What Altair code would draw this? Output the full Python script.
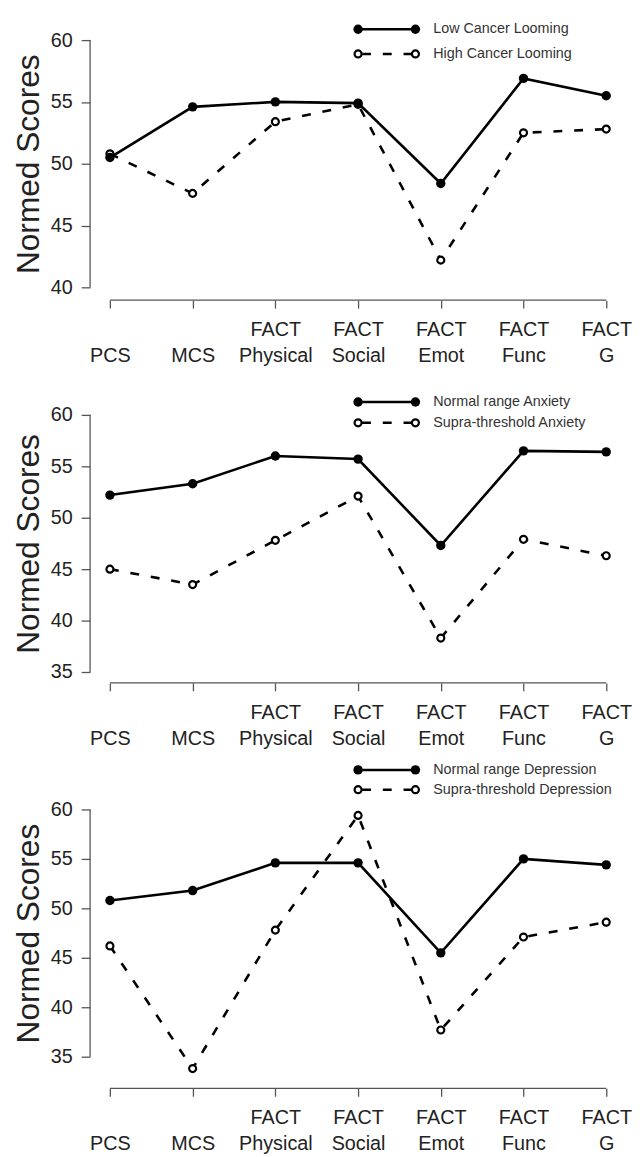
import json
import altair as alt
import pandas as pd

# ---- data ----
categories = ["PCS", "MCS", "FACT Physical", "FACT Social", "FACT Emot", "FACT Func", "FACT G"]
label_lines = [["", "PCS"], ["", "MCS"], ["FACT", "Physical"], ["FACT", "Social"],
               ["FACT", "Emot"], ["FACT", "Func"], ["FACT", "G"]]
positions = [1, 2, 3, 4, 5, 6, 7]

p1_names = ["Low Cancer Looming", "High Cancer Looming"]
p1_low = [50.5, 54.6, 55.0, 54.9, 48.4, 56.9, 55.5]
p1_high = [50.8, 47.6, 53.4, 54.8, 42.2, 52.5, 52.8]
p1_ticks = [40, 45, 50, 55, 60]

p2_names = ["Normal range Anxiety", "Supra-threshold Anxiety"]
p2_normal = [52.2, 53.3, 56.0, 55.7, 47.3, 56.5, 56.4]
p2_supra = [45.0, 43.5, 47.8, 52.1, 38.3, 47.9, 46.3]
p2_ticks = [35, 40, 45, 50, 55, 60]

p3_names = ["Normal range Depression", "Supra-threshold Depression"]
p3_normal = [50.8, 51.8, 54.6, 54.6, 45.5, 55.0, 54.4]
p3_supra = [46.2, 33.8, 47.8, 59.4, 37.7, 47.1, 48.6]
p3_ticks = [35, 40, 45, 50, 55, 60]

FONT = "Liberation Sans"
AXIS_GRAY = "#555555"
W = 542
DASH = [9, 12]
FILLED_SIZE = 90
OPEN_SIZE = 50
label_expr = json.dumps(label_lines).replace('"', "'") + "[datum.value - 1]"


def panel(names, solid_vals, dashed_vals, ticks, ydom, height, legend_rows, title_y):
    df_solid = pd.DataFrame({"idx": positions, "cat": categories, "value": solid_vals, "series": names[0]})
    df_dash = pd.DataFrame({"idx": positions, "cat": categories, "value": dashed_vals, "series": names[1]})

    x = alt.X("idx:Q",
              scale=alt.Scale(domain=[0.76, 7.24], nice=False, zero=False),
              axis=alt.Axis(values=positions, labelExpr=label_expr, domain=False, grid=False,
                            tickSize=8, labelPadding=12, labelLineHeight=26,
                            labelFontSize=20, labelAngle=0, labelFlush=False,
                            labelOverlap=False, title=None))
    y = alt.Y("value:Q",
              scale=alt.Scale(domain=ydom, nice=False, zero=False),
              axis=alt.Axis(values=ticks, domain=False, grid=False, tickSize=9,
                            labelPadding=9, labelFontSize=20,
                            title="Normed Scores", titleFontSize=32, titleFontWeight="normal",
                            titleAngle=270, titleX=-52, titleY=title_y,
                            titleBaseline="alphabetic", titleAlign="center"))

    line_solid = alt.Chart(df_solid).mark_line(color="black", strokeWidth=2.6).encode(x=x, y=y)
    line_dash = alt.Chart(df_dash).mark_line(color="black", strokeWidth=2.6, strokeDash=DASH).encode(
        x="idx:Q", y="value:Q")
    pts_dash = alt.Chart(df_dash).mark_point(shape="circle", filled=False, fill="white", fillOpacity=1,
                                             color="black", strokeWidth=2.2, size=OPEN_SIZE, opacity=1).encode(
        x="idx:Q", y="value:Q")
    pts_solid = alt.Chart(df_solid).mark_point(shape="circle", filled=True, color="black",
                                               size=FILLED_SIZE, opacity=1).encode(x="idx:Q", y="value:Q")

    yaxis_rule = alt.Chart().mark_rule(color=AXIS_GRAY, strokeWidth=1.3).encode(
        x=alt.value(0), y=alt.datum(ticks[0]), y2=alt.datum(ticks[-1]))
    xaxis_rule = alt.Chart().mark_rule(color=AXIS_GRAY, strokeWidth=1.3).encode(
        x=alt.datum(positions[0]), x2=alt.datum(positions[-1]), y=alt.value(height))

    # legend (R style: symbol - line - symbol, label)
    lx1, lx2, ltx = 271, 329, 347
    legend_layers = []
    for i, (name, ry) in enumerate(zip(names, legend_rows)):
        if i == 0:
            legend_layers.append(alt.Chart().mark_rule(color="black", strokeWidth=2.6).encode(
                x=alt.value(lx1), x2=alt.value(lx2), y=alt.value(ry)))
        else:
            legend_layers.append(alt.Chart().mark_rule(color="black", strokeWidth=2.6, strokeDash=DASH).encode(
                x=alt.value(lx1 + 4), x2=alt.value(lx2), y=alt.value(ry)))
        for lx in (lx1, lx2):
            if i == 0:
                legend_layers.append(alt.Chart().mark_point(shape="circle", filled=True, color="black",
                                                            size=FILLED_SIZE, opacity=1).encode(
                    x=alt.value(lx), y=alt.value(ry)))
            else:
                legend_layers.append(alt.Chart().mark_point(shape="circle", filled=False, fill="white",
                                                            fillOpacity=1, color="black", strokeWidth=2.2,
                                                            size=OPEN_SIZE, opacity=1).encode(
                    x=alt.value(lx), y=alt.value(ry)))
        legend_layers.append(alt.Chart().mark_text(text=name, align="left", baseline="middle",
                                                   fontSize=14.5, color="#333333", font=FONT).encode(
            x=alt.value(ltx), y=alt.value(ry)))

    return alt.layer(line_solid, line_dash, pts_dash, pts_solid, yaxis_rule, xaxis_rule,
                     *legend_layers).properties(width=W, height=height)


c1 = panel(p1_names, p1_low, p1_high, p1_ticks, [38.96, 61.6], 283, [9, 34], 145)
c2 = panel(p2_names, p2_normal, p2_supra, p2_ticks, [33.94, 63.65], 309, [25, 46], 168)
c3 = panel(p3_names, p3_normal, p3_supra, p3_ticks, [31.8, 65.0], 332, [10, 30], 175)

chart = alt.vconcat(c1, c2, c3, spacing=78, bounds="flush").properties(
    padding={"left": 4, "top": 6, "right": 0, "bottom": 0}
).configure(font=FONT).configure_view(stroke=None).configure_axis(
    labelFont=FONT, titleFont=FONT, labelColor="#222222", titleColor="#222222",
    tickColor=AXIS_GRAY, tickWidth=1.3
)

chart.save("out.html", embed_options={"renderer": "svg", "actions": False})
